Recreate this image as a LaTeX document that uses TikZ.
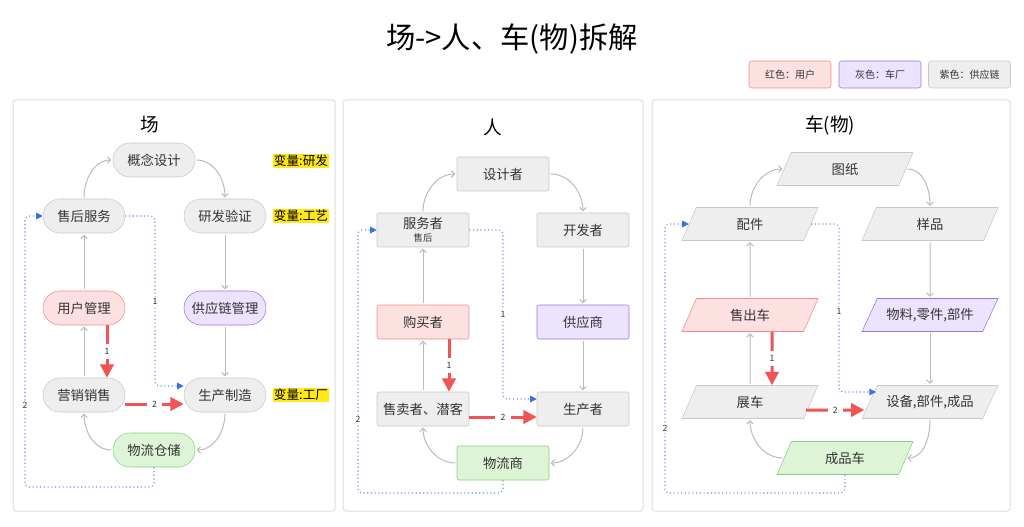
\documentclass[tikz,border=0pt]{standalone}
\usepackage{fontspec}
\setmainfont{Noto Sans CJK SC}
\usetikzlibrary{shapes.geometric,arrows.meta,calc,positioning}

\definecolor{nodegray}{HTML}{EEEEEE}
\definecolor{linegray}{HTML}{C8C8C8}
\definecolor{panelgray}{HTML}{DDDDDD}
\definecolor{redfill}{HTML}{FDE1E1}
\definecolor{redline}{HTML}{EE8A8A}
\definecolor{purfill}{HTML}{ECE4FF}
\definecolor{purline}{HTML}{9C72E6}
\definecolor{grnfill}{HTML}{DDF5D6}
\definecolor{grnline}{HTML}{88CF7E}
\definecolor{arrred}{HTML}{F05454}
\definecolor{arrblue}{HTML}{6A8FD8}
\definecolor{tipblue}{HTML}{3B6FE6}
\definecolor{arrgray}{HTML}{BBBBBB}
\definecolor{txt}{HTML}{333333}
\definecolor{hilite}{HTML}{FFE815}

\begin{document}
\begin{tikzpicture}[x=0.75pt, y=-0.75pt,
    base/.style = {draw=linegray, fill=nodegray, text=txt, font=\fontsize{10}{12}\selectfont},
    pill/.style = {base, rounded corners=12.75pt, minimum width=61.5pt, minimum height=25.5pt},
    box/.style = {base, rounded corners=1.5pt, minimum width=69pt, minimum height=25.5pt, align=center, inner sep=1pt},
    para/.style = {base, trapezium, trapezium left angle=56, trapezium right angle=124, trapezium stretches body, minimum width=102pt, minimum height=24.75pt},
    usr/.style = {draw=redline, fill=redfill},
    ven/.style = {draw=purline, fill=purfill},
    lgs/.style = {draw=grnline, fill=grnfill},
    lgd/.style = {rounded corners=2pt, minimum width=61.5pt, minimum height=20.25pt, text=txt, font=\fontsize{7.5}{9}\selectfont},
    flow/.style = {draw=arrgray, line width=0.75pt, -{Straight Barb[length=2.5pt,width=5pt]}, shorten >=1pt, shorten <=1pt},
    hot/.style = {draw=arrred, line width=2.25pt, -{Triangle[length=10pt,width=10pt]}},
    link/.style = {draw=arrblue, line width=0.8pt, dotted, rounded corners=3pt, -{Triangle[length=5pt,width=5pt,color=tipblue]}},
    num/.style = {fill=white, inner sep=1pt, text=txt, font=\fontsize{6.5}{7}\selectfont},
    gap/.style = {num, inner xsep=4pt, inner ysep=3pt},
    varlbl/.style = {fill=hilite, inner sep=1pt, text=black, font=\fontsize{9.5}{11}\selectfont},
    panel/.style = {draw=panelgray, fill=white, rounded corners=2pt, line width=0.75pt},
    head/.style = {text=black, font=\fontsize{14}{16}\selectfont}]
    \useasboundingbox (0,0) rectangle (1024,527);

    \node[font=\fontsize{22}{26}\selectfont] (title) at (512,39) {场->人、车(物)拆解};
    \node[lgd, draw=redline, fill=redfill] (k1) at (790,74.5) {红色：用户};
    \node[lgd, draw=purline, fill=purfill] (k2) at (880,74.5) {灰色：车厂};
    \node[lgd, draw=linegray, fill=nodegray] (k3) at (969.5,74.5) {紫色：供应链};

    \draw[panel] (13,100) rectangle (335,511);
    \draw[panel] (343,100) rectangle (643,511);
    \draw[panel] (652,100) rectangle (1010,511);

    % 场
    \node[head] (h1) at (150,125) {场};
    \node[pill] (s1) at (154,160) {概念设计};
    \node[pill] (s2) at (84,216) {售后服务};
    \node[pill] (s3) at (225,216) {研发验证};
    \node[pill, usr] (s4) at (84,308) {用户管理};
    \node[pill, ven] (s5) at (225,308) {供应链管理};
    \node[pill] (s7) at (84,395) {营销销售};
    \node[pill] (s6) at (225,395) {生产制造};
    \node[pill, lgs] (s8) at (154,450) {物流仓储};
    \node[varlbl] (v1) at (301,161) {变量:研发};
    \node[varlbl] (v2) at (301,216) {变量:工艺};
    \node[varlbl] (v3) at (301,395) {变量:工厂};
    \coordinate (s6in) at ([yshift=6.75pt]s6.west);
    \coordinate (s1b) at (155,0);
    \coordinate (s2b) at (25,487);
    \draw[flow] (s2.north) to[out=90,in=180] (s1.west);
    \draw[flow] (s1.east) to[out=0,in=90] (s3.north);
    \draw[flow] (s3.south) -- (s5.north);
    \draw[flow] (s5.south) -- (s6.north);
    \draw[flow] (s6.south) to[out=-90,in=0] (s8.east);
    \draw[flow] (s8.west) to[out=180,in=-90] (s7.south);
    \draw[flow] (s7.north) -- (s4.south);
    \draw[flow] (s4.north) -- (s2.south);
    \draw[hot] ([xshift=17.25pt]s4.south) -- node[gap] {1} ([xshift=17.25pt]s7.north);
    \draw[hot] ([yshift=-6.75pt]s7.east) -- node[gap] {2} ([yshift=-6.75pt]s6.west);
    \draw[link] (s2.east) -| node[num, pos=0.75] {1} (s1b |- s6in) -- (s6in);
    \draw[link] (s8.south) |- (s2b) |- node[num, pos=0.15] {2} (s2.west);

    % 人
    \node[head] (h2) at (493,127) {人};
    \node[box] (r1) at (503,174) {设计者};
    \node[box] (r2) at (423,230) {服务者\\[-2pt]{\fontsize{7}{8}\selectfont 售后}};
    \node[box] (r3) at (583,230) {开发者};
    \node[box, usr] (r4) at (423,322) {购买者};
    \node[box, ven] (r5) at (583,322) {供应商};
    \node[box] (r7) at (423,409) {售卖者、潜客};
    \node[box] (r6) at (583,409) {生产者};
    \node[box, lgs] (r8) at (503,463) {物流商};
    \coordinate (r6in) at ([yshift=7.5pt]r6.west);
    \coordinate (r1b) at (503,0);
    \coordinate (r2b) at (358,493);
    \draw[flow] (r2.north) to[out=90,in=180] (r1.west);
    \draw[flow] (r1.east) to[out=0,in=90] (r3.north);
    \draw[flow] (r3.south) -- (r5.north);
    \draw[flow] (r5.south) -- (r6.north);
    \draw[flow] (r6.south) to[out=-90,in=0] (r8.east);
    \draw[flow] (r8.west) to[out=180,in=-90] (r7.south);
    \draw[flow] (r7.north) -- (r4.south);
    \draw[flow] (r4.north) -- (r2.south);
    \draw[hot] ([xshift=19.5pt]r4.south) -- node[gap] {1} ([xshift=19.5pt]r7.north);
    \draw[hot] ([yshift=-6pt]r7.east) -- node[gap] {2} ([yshift=-6pt]r6.west);
    \draw[link] (r2.east) -| node[num, pos=0.75] {1} (r1b |- r6in) -- (r6in);
    \draw[link] (r8.south) |- (r2b) |- node[num, pos=0.14] {2} (r2.west);

    % 车(物)
    \node[head] (h3) at (830,125) {车(物)};
    \node[para] (w2) at (845,169) {图纸};
    \node[para] (w1) at (750,224) {配件};
    \node[para] (w3) at (930,224) {样品};
    \node[para, usr] (w4) at (750,315) {售出车};
    \node[para, ven] (w5) at (930,315) {物料,零件,部件};
    \node[para] (w7) at (750,402) {展车};
    \node[para] (w6) at (930,402) {设备,部件,成品};
    \node[para, lgs] (w8) at (845,458) {成品车};
    \coordinate (w6in) at ([xshift=5pt,yshift=7.5pt]w6.west);
    \coordinate (w1b) at (839,0);
    \coordinate (w2b) at (665,493);
    \draw[flow] (w1.north) to[out=90,in=180] (w2.west);
    \draw[flow] (w2.east) to[out=0,in=90] (w3.north);
    \draw[flow] (w3.south) -- (w5.north);
    \draw[flow] (w5.south) -- (w6.north);
    \draw[flow] (w6.south) to[out=-90,in=0] (w8.east);
    \draw[flow] (w8.west) to[out=180,in=-90] (w7.south);
    \draw[flow] (w7.north) -- (w4.south);
    \draw[flow] (w4.north) -- (w1.south);
    \draw[hot] ([xshift=16.5pt]w4.south) -- node[gap] {1} ([xshift=16.5pt]w7.north);
    \draw[hot] ([xshift=-3.75pt,yshift=-6pt]w7.east) -- node[gap] {2} ([xshift=-3.75pt,yshift=-6pt]w6.west);
    \draw[link] (w1.east) -| node[num, pos=0.76] {1} (w1b |- w6in) -- (w6in);
    \draw[link] (w8.south) |- (w2b) |- node[num, pos=0.12] {2} (w1.west);
\end{tikzpicture}
\end{document}
